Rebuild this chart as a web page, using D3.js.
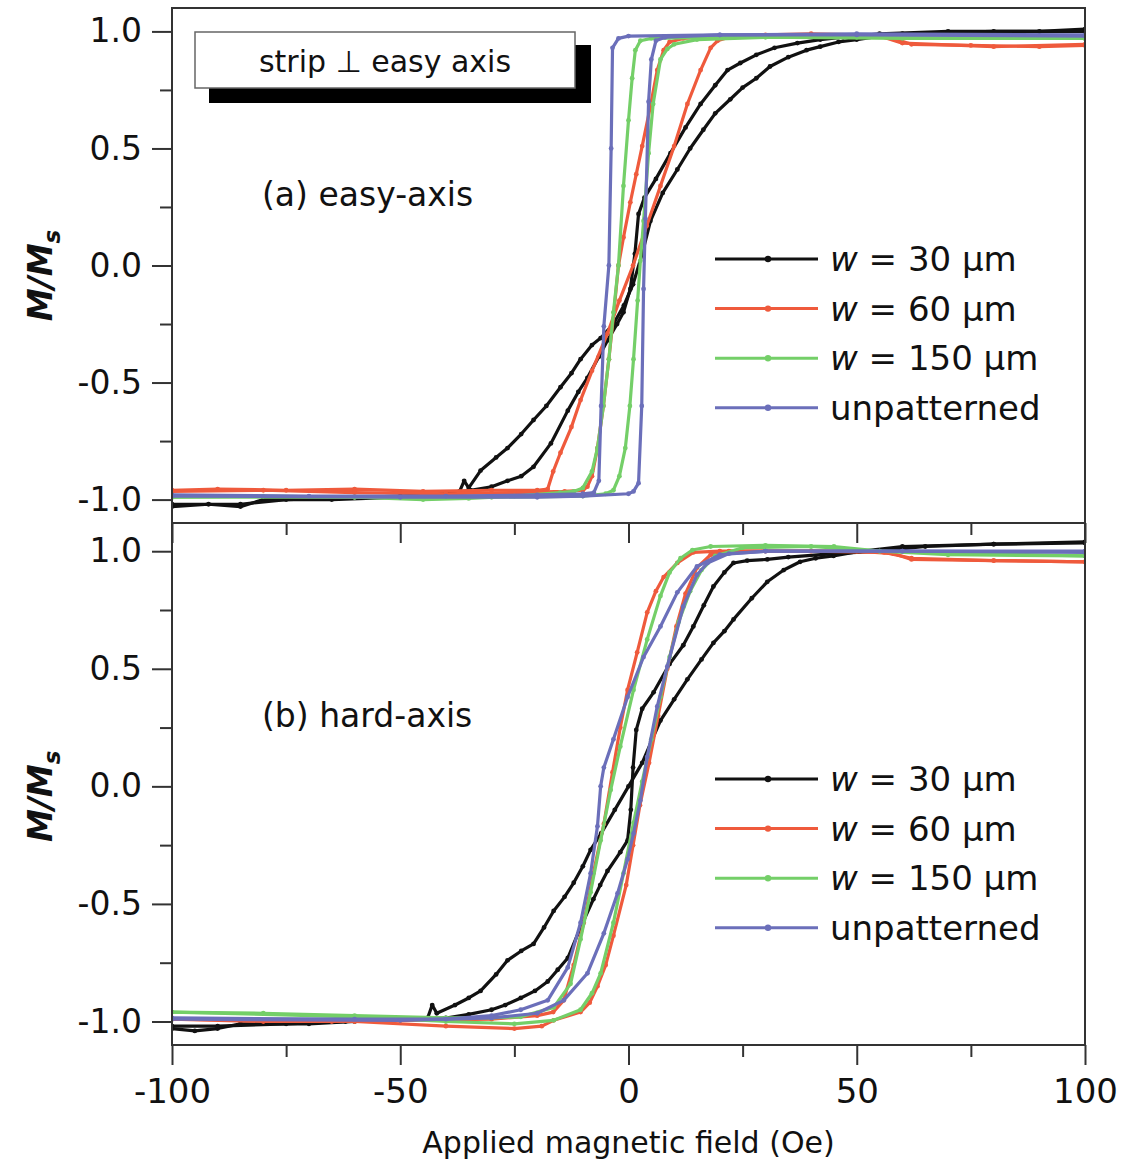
<!DOCTYPE html>
<html>
<head>
<meta charset="utf-8">
<script src="https://d3js.org/d3.v7.min.js"></script>
<style>
  body { margin: 0; background: #fff; }
  text { font-family: "DejaVu Sans", sans-serif; fill: #111; }
</style>
</head>
<body>
<div id="chart"></div>
<script>
// ---- data (field in Oe, M/Ms) ----
const fieldTicks = [-100, -50, 0, 50, 100];
const fieldMinor = [-75, -25, 25, 75];
const mTicks = [-1, -0.5, 0, 0.5, 1];
const mMinor = [-0.75, -0.25, 0.25, 0.75];

const seriesNames = ["30 μm", "60 μm", "150 μm", "unpatterned"];
const seriesColors = ["#111111", "#ef5a3c", "#74cf68", "#6b6fba"];

// (a) easy-axis
const easy30A = [[-100,-1.03],[-92,-1.02],[-85,-1.03],[-80,-1.0],[-65,-1.0],[-50,-0.99],[-40,-0.975],[-37,-0.965],[-36,-0.92],[-35,-0.95],[-32.4,-0.876],[-29,-0.82],[-26.5,-0.78],[-23.5,-0.72],[-20.8,-0.66],[-18,-0.6],[-14.9,-0.52],[-12.5,-0.46],[-10.5,-0.40],[-8,-0.34],[-6.1,-0.31],[-3.3,-0.25],[-1,-0.17],[1,-0.08],[3,0.05],[4.8,0.19],[7.5,0.31],[10.7,0.41],[13.5,0.5],[16.4,0.58],[19,0.65],[22.3,0.71],[25,0.76],[28,0.8],[31,0.85],[35,0.89],[39,0.92],[42,0.935],[46,0.955],[50,0.965],[55,0.98],[60,0.99],[70,0.995],[80,1.0],[90,1.0],[100,1.01]];
const easy30B = [[-100,-1.02],[-85,-1.02],[-75,-1.0],[-50,-0.985],[-40,-0.975],[-34.6,-0.96],[-30,-0.945],[-26.5,-0.92],[-23.5,-0.9],[-20.8,-0.86],[-17,-0.76],[-13.3,-0.62],[-11,-0.54],[-9,-0.48],[-6.5,-0.39],[-4.6,-0.32],[-2.5,-0.25],[-1.1,-0.2],[0.4,-0.1],[1.4,0.05],[2.2,0.22],[3.5,0.29],[6,0.37],[9.2,0.48],[12.5,0.59],[15.8,0.69],[19,0.77],[21.7,0.835],[24.5,0.865],[28,0.9],[32,0.93],[37,0.95],[42,0.965],[47,0.975],[55,0.99],[70,1.0],[100,1.0]];
const easy60A = [[-100,-0.96],[-90,-0.955],[-75,-0.96],[-60,-0.955],[-45,-0.965],[-30,-0.96],[-20,-0.96],[-17.7,-0.955],[-16.5,-0.88],[-14.9,-0.8],[-12.5,-0.69],[-10.5,-0.575],[-8,-0.45],[-4.6,-0.29],[-2,-0.15],[1,0.0],[4,0.17],[7,0.34],[10,0.51],[12.9,0.69],[15.8,0.835],[18,0.93],[19.5,0.96],[22,0.975],[30,0.985],[40,0.99],[50,0.985],[58,0.97],[62,0.945],[75,0.94],[90,0.935],[100,0.94]];
const easy60B = [[-100,-0.965],[-80,-0.96],[-60,-0.97],[-40,-0.975],[-25,-0.97],[-14,-0.965],[-10,-0.96],[-9,-0.945],[-8,-0.9],[-6.8,-0.78],[-5.5,-0.6],[-4.3,-0.4],[-3.2,-0.2],[-2.2,0.0],[-1.1,0.12],[0.4,0.27],[1.7,0.39],[3,0.51],[4.7,0.67],[6.3,0.835],[7.7,0.92],[9,0.955],[12,0.97],[20,0.98],[40,0.985],[55,0.98],[60,0.95],[80,0.935],[100,0.945]];
const easy150A = [[-100,-0.99],[-80,-0.985],[-60,-0.99],[-45,-1.0],[-35,-0.995],[-25,-0.985],[-15,-0.97],[-12,-0.965],[-10,-0.95],[-8,-0.88],[-6.8,-0.78],[-5.5,-0.6],[-4.3,-0.4],[-3.3,-0.2],[-2.2,0.0],[-1.1,0.34],[0,0.62],[0.8,0.8],[1.5,0.92],[2.6,0.96],[5,0.97],[20,0.975],[50,0.975],[100,0.97]];
const easy150B = [[-100,-0.99],[-60,-0.99],[-30,-0.99],[-10,-0.985],[-5,-0.975],[-3.3,-0.96],[-2,-0.9],[-0.7,-0.78],[0.3,-0.6],[1.1,-0.4],[2,-0.15],[2.6,0.02],[3.3,0.19],[4.4,0.48],[5.4,0.69],[7,0.88],[8.5,0.925],[10,0.945],[15,0.965],[30,0.975],[60,0.97],[100,0.97]];
const easyUnpA = [[-100,-0.98],[-70,-0.985],[-40,-0.985],[-20,-0.98],[-10,-0.975],[-7.6,-0.97],[-6.5,-0.92],[-6.0,-0.6],[-5.4,-0.26],[-4.3,0.0],[-3.8,0.5],[-3.5,0.93],[-2.2,0.97],[0,0.98],[20,0.985],[50,0.985],[100,0.98]];
const easyUnpB = [[-100,-0.985],[-50,-0.99],[-20,-0.99],[-10,-0.985],[0,-0.975],[1.1,-0.965],[2.2,-0.93],[2.9,-0.6],[3.3,-0.1],[3.7,0.2],[4.4,0.7],[5,0.88],[6,0.96],[8,0.975],[20,0.985],[50,0.99],[100,0.985]];

// (b) hard-axis
const hard30A = [[-100,-1.03],[-95,-1.04],[-90,-1.03],[-85,-1.01],[-70,-1.01],[-60,-1.0],[-50,-0.99],[-44,-0.985],[-43,-0.93],[-42,-0.965],[-38,-0.93],[-35,-0.9],[-32.4,-0.87],[-29,-0.8],[-26.5,-0.74],[-23.5,-0.7],[-20.8,-0.67],[-18.5,-0.6],[-16.4,-0.53],[-14,-0.47],[-12,-0.41],[-10,-0.34],[-8.3,-0.27],[-6,-0.2],[-3,-0.1],[0,0.0],[3,0.1],[5,0.19],[7,0.28],[10,0.37],[12.9,0.455],[16,0.54],[18.6,0.61],[21,0.66],[23,0.71],[27,0.8],[30.4,0.87],[34,0.92],[37.6,0.955],[41,0.97],[44.9,0.98],[50.8,1.0],[60,1.02],[80,1.03],[100,1.04]];
const hard30B = [[-100,-1.02],[-90,-1.02],[-75,-1.01],[-62,-1.0],[-50,-0.995],[-40,-0.985],[-35,-0.97],[-30,-0.95],[-27,-0.93],[-23.6,-0.9],[-20.5,-0.87],[-17.7,-0.83],[-15.5,-0.78],[-13.3,-0.73],[-10.5,-0.6],[-7.7,-0.48],[-6.2,-0.42],[-4.6,-0.36],[-1.8,-0.28],[-0.2,-0.23],[0.5,-0.1],[1.0,0.08],[1.7,0.24],[3,0.33],[5.5,0.40],[9,0.52],[12,0.6],[14.2,0.68],[16.5,0.77],[18.6,0.85],[21,0.91],[23,0.95],[26,0.96],[30.4,0.965],[35,0.975],[45,0.99],[55,1.0],[65,1.02],[80,1.03],[100,1.035]];
const hard60A = [[-100,-0.99],[-80,-1.0],[-65,-1.0],[-50,-0.995],[-30,-0.99],[-20,-0.975],[-16.5,-0.96],[-14.2,-0.91],[-12,-0.76],[-9.8,-0.58],[-7.7,-0.37],[-5.4,-0.16],[-3.5,0.06],[-1.8,0.25],[-0.2,0.41],[1.9,0.57],[4.1,0.74],[6,0.83],[7.7,0.89],[10.7,0.95],[14.2,0.995],[20,1.0],[30,1.0],[50,1.0],[58,0.99],[62,0.965],[80,0.96],[100,0.955]];
const hard60B = [[-100,-0.99],[-60,-1.0],[-40,-1.02],[-25,-1.03],[-19,-1.02],[-16.4,-0.995],[-10.5,-0.96],[-8.5,-0.92],[-6.8,-0.85],[-5,-0.76],[-3.3,-0.635],[-0.5,-0.42],[1.0,-0.25],[2.5,-0.08],[4.5,0.1],[6.5,0.3],[8.5,0.5],[10.5,0.68],[12.5,0.82],[15,0.93],[18,0.985],[22,1.0],[40,1.0],[56,0.995],[62,0.97],[80,0.96],[100,0.955]];
const hard150A = [[-100,-0.96],[-80,-0.965],[-60,-0.975],[-40,-0.985],[-30,-0.985],[-23.6,-0.98],[-16.4,-0.94],[-12.7,-0.84],[-10.5,-0.65],[-8.3,-0.45],[-6.1,-0.23],[-3.9,-0.015],[-1.8,0.17],[1.1,0.41],[4.1,0.625],[7,0.81],[9,0.91],[11.4,0.97],[14,1.005],[18,1.02],[30,1.025],[45,1.02],[55,1.0],[70,0.985],[100,0.98]];
const hard150B = [[-100,-0.96],[-60,-0.98],[-40,-1.0],[-25,-1.01],[-16.4,-0.995],[-10.5,-0.95],[-8,-0.88],[-6.1,-0.795],[-3.3,-0.58],[-1.1,-0.37],[1.1,-0.155],[3,0.02],[5,0.2],[7,0.38],[9,0.55],[11,0.7],[13.5,0.83],[16,0.92],[19,0.98],[25,1.015],[40,1.02],[55,1.0],[100,0.98]];
const hardUnpA = [[-100,-0.985],[-60,-0.99],[-40,-0.99],[-30,-0.975],[-23.6,-0.95],[-17.7,-0.91],[-13.3,-0.77],[-10.5,-0.58],[-8.3,-0.37],[-6.8,-0.17],[-6.1,0.0],[-5.4,0.08],[-3.3,0.2],[-0.2,0.38],[3.3,0.55],[7,0.68],[10.7,0.825],[15,0.935],[20,0.985],[30,1.0],[60,1.0],[100,0.995]];
const hardUnpB = [[-100,-0.99],[-50,-0.995],[-30,-0.985],[-20,-0.965],[-14.2,-0.91],[-9,-0.795],[-5.4,-0.625],[-2.4,-0.455],[-0.2,-0.31],[1.1,-0.2],[2.6,-0.06],[4.1,0.125],[6.3,0.34],[8.5,0.51],[12,0.765],[15,0.9],[17.3,0.95],[22,0.99],[30,1.0],[60,1.0],[100,1.0]];

const easyCurves = [[easy30A, easy30B], [easy60A, easy60B], [easy150A, easy150B], [easyUnpA, easyUnpB]];
const hardCurves = [[hard30A, hard30B], [hard60A, hard60B], [hard150A, hard150B], [hardUnpA, hardUnpB]];

// ---- layout ----
const W = 1126, H = 1169;
const left = 172, right = 1085;
const topY0 = 8, midY = 523, botY1 = 1045;

const svg = d3.select("#chart").append("svg")
    .attr("width", W).attr("height", H);

const x = d3.scaleLinear().domain([-100, 100]).range([left, right]);
const yTop = d3.scaleLinear().domain([-1.1, 1.1]).range([midY, topY0]);
const yBot = d3.scaleLinear().domain([-1.1, 1.12]).range([botY1, midY]);

function drawPanel(y, y0, y1, curves, id, label, legendY) {
    const g = svg.append("g");

    svg.append("clipPath").attr("id", id)
        .append("rect").attr("x", left).attr("y", y0)
        .attr("width", right - left).attr("height", y1 - y0);

    const plot = g.append("g").attr("clip-path", `url(#${id})`);
    const line = d3.line().x(d => x(d[0])).y(d => y(d[1]));

    curves.forEach((branches, i) => {
        branches.forEach(b => {
            plot.append("path").datum(b)
                .attr("d", line)
                .attr("fill", "none")
                .attr("stroke", seriesColors[i])
                .attr("stroke-width", 3.2)
                .attr("stroke-linejoin", "round");
            plot.selectAll(null).data(b).enter().append("circle")
                .attr("cx", d => x(d[0])).attr("cy", d => y(d[1]))
                .attr("r", 2.4).attr("fill", seriesColors[i]);
        });
    });

    // frame
    g.append("rect").attr("x", left).attr("y", y0)
        .attr("width", right - left).attr("height", y1 - y0)
        .attr("fill", "none").attr("stroke", "#333").attr("stroke-width", 2);

    // y axis
    const ax = g.append("g").attr("transform", `translate(${left},0)`)
        .call(d3.axisLeft(y).tickValues(mTicks).tickSize(20).tickPadding(10)
            .tickFormat(d => d.toFixed(1)));
    ax.select(".domain").remove();
    ax.selectAll("line").attr("stroke", "#333").attr("stroke-width", 2);
    ax.selectAll("text").style("font-size", "33px").attr("fill", "#111");

    const axm = g.append("g").attr("transform", `translate(${left},0)`)
        .call(d3.axisLeft(y).tickValues(mMinor).tickSize(12).tickFormat(""));
    axm.select(".domain").remove();
    axm.selectAll("line").attr("stroke", "#333").attr("stroke-width", 2);

    // y title
    const yt = g.append("text")
        .attr("transform", `translate(52,${(y(1) + y(-1)) / 2 + 10}) rotate(-90)`)
        .attr("text-anchor", "middle")
        .style("font-size", "33px").style("font-style", "italic").style("font-weight", "bold");
    yt.append("tspan").text("M/M");
    yt.append("tspan").attr("dy", 8).style("font-size", "23px").text("s");

    // panel label
    g.append("text").attr("x", 262).attr("y", y(0.5) + 58)
        .style("font-size", "33px").text(label);

    // legend
    seriesNames.forEach((name, i) => {
        const ly = legendY + i * 49.6;
        g.append("line").attr("x1", 715).attr("x2", 818).attr("y1", ly).attr("y2", ly)
            .attr("stroke", seriesColors[i]).attr("stroke-width", 3);
        g.append("circle").attr("cx", 768).attr("cy", ly).attr("r", 3.2)
            .attr("fill", seriesColors[i]);
        const t = g.append("text").attr("x", 830).attr("y", ly + 12)
            .style("font-size", "34px");
        if (i < 3) {
            t.append("tspan").style("font-style", "italic").text("w");
            t.append("tspan").text(" = " + name);
        } else {
            t.text(name);
        }
    });
}

drawPanel(yTop, topY0, midY, easyCurves, "clipTop", "(a) easy-axis", 259);
drawPanel(yBot, midY, botY1, hardCurves, "clipBot", "(b) hard-axis", 779);

// x ticks on the shared middle line and on the bottom axis
[midY, botY1].forEach((yy, k) => {
    const ax = svg.append("g").attr("transform", `translate(0,${yy})`)
        .call(d3.axisBottom(x).tickValues(fieldTicks).tickSize(20).tickPadding(14)
            .tickFormat(k === 1 ? (d => String(d)) : ""));
    ax.select(".domain").remove();
    ax.selectAll("line").attr("stroke", "#333").attr("stroke-width", 2);
    ax.selectAll("text").style("font-size", "34px").attr("fill", "#111");
    const axm = svg.append("g").attr("transform", `translate(0,${yy})`)
        .call(d3.axisBottom(x).tickValues(fieldMinor).tickSize(12).tickFormat(""));
    axm.select(".domain").remove();
    axm.selectAll("line").attr("stroke", "#333").attr("stroke-width", 2);
});

svg.append("text").attr("x", (left + right) / 2).attr("y", 1153)
    .attr("text-anchor", "middle").style("font-size", "30px")
    .text("Applied magnetic field (Oe)");

// "strip ⊥ easy axis" box with drop shadow
svg.append("rect").attr("x", 209).attr("y", 45).attr("width", 382).attr("height", 58)
    .attr("fill", "#000");
svg.append("rect").attr("x", 195).attr("y", 32).attr("width", 380).attr("height", 56)
    .attr("fill", "#fff").attr("stroke", "#666").attr("stroke-width", 1.5);
svg.append("text").attr("x", 385).attr("y", 72).attr("text-anchor", "middle")
    .style("font-size", "30px").text("strip ⊥ easy axis");
</script>
</body>
</html>
